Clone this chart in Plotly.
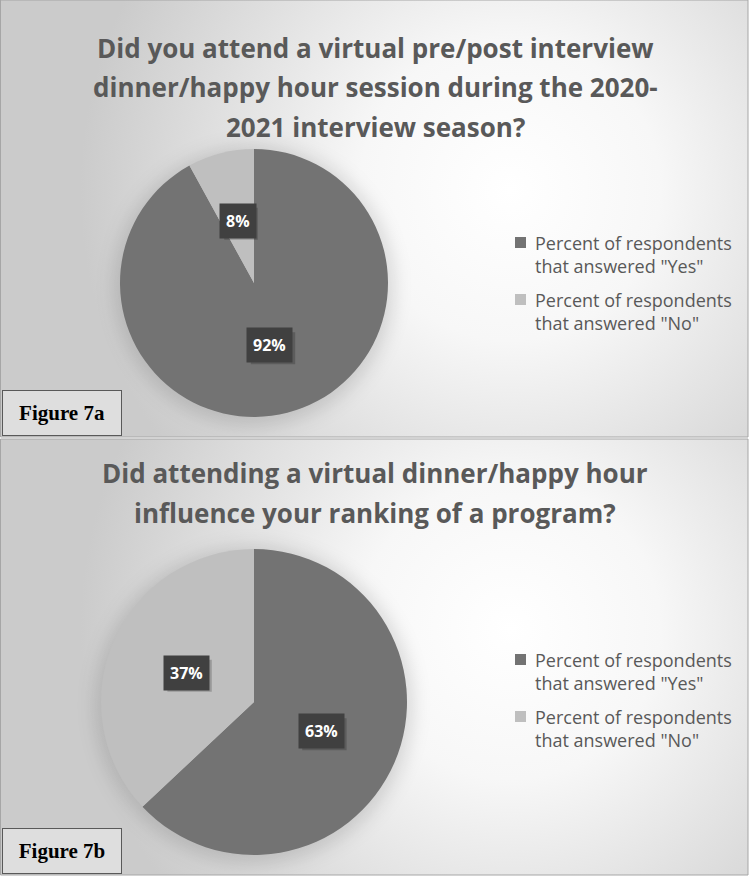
import base64
import math
import plotly.graph_objects as go

W, H = 750, 876

# data
labels = ['Percent of respondents<br>that answered "Yes"', 'Percent of respondents<br>that answered "No"']
values_7a = [92, 8]
values_7b = [63, 37]
title_7a = ["Did you attend a virtual pre/post interview",
            "dinner/happy hour session during the 2020-",
            "2021 interview season?"]
title_7b = ["Did attending a virtual dinner/happy hour",
            "influence your ranking of a program?"]
fig_names = ["Figure 7a", "Figure 7b"]
colors = ["#737373", "#bfbfbf"]


def px_x(x):
    return x / W


def px_y(y):
    return 1 - y / H


# background gradient + soft pie shadow, one svg for each panel
def panel_svg(w, h, cx, cy, r, pcx, pcy, pr):
    svg = f'''<svg xmlns="http://www.w3.org/2000/svg" width="{w}" height="{h}">
<defs><radialGradient id="g" gradientUnits="userSpaceOnUse" cx="{cx}" cy="{cy}" r="{r}">
<stop offset="0" stop-color="#ffffff"/><stop offset="0.35" stop-color="#f7f7f7"/>
<stop offset="1" stop-color="#cbcbcb"/></radialGradient>
<filter id="b" x="-30%" y="-30%" width="160%" height="160%"><feGaussianBlur stdDeviation="9"/></filter></defs>
<rect width="{w}" height="{h}" fill="url(#g)"/>
<circle cx="{pcx}" cy="{pcy + 3}" r="{pr + 6}" fill="#000" fill-opacity="0.13" filter="url(#b)"/></svg>'''
    return "data:image/svg+xml;base64," + base64.b64encode(svg.encode()).decode()


fig = go.Figure()

panels = [(0, 437), (439, 875)]
# pie centre (px), radius, values, title lines, first title line y, legend top y
pies = [((254, 283), 134, values_7a, title_7a, 48, 242),
        ((254, 702), 153, values_7b, title_7b, 473, 659)]

images = []
shapes = []
annotations = []

for i, ((cx, cy), R, vals, title, ty, ly0) in enumerate(pies):
    top, bot = panels[i]
    images.append(dict(source=panel_svg(748, bot - top, 510, 190, 430, cx, cy - top, R),
                       xref="paper", yref="paper",
                       x=0, y=px_y(top), sizex=748 / W, sizey=(bot - top) / H,
                       xanchor="left", yanchor="top", sizing="stretch", layer="below"))
    shapes.append(dict(type="rect", xref="paper", yref="paper", x0=px_x(0.5), x1=px_x(748),
                       y0=px_y(bot), y1=px_y(top), line=dict(color="#a6a6a6", width=1)))

    fig.add_trace(go.Pie(
        labels=labels, values=vals, sort=False, direction="clockwise", rotation=0,
        marker=dict(colors=colors, line=dict(width=0)),
        textinfo="none", hoverinfo="label+percent",
        domain=dict(x=[px_x(cx - R), px_x(cx + R)], y=[px_y(cy + R), px_y(cy - R)]),
        showlegend=False,
    ))

    # data labels, placed along each slice's mid angle
    total = sum(vals)
    start = 0
    for v in vals:
        mid = (start + v / 2) / total * 2 * math.pi
        start += v
        lx = cx + 0.48 * R * math.sin(mid)
        ly = cy - 0.48 * R * math.cos(mid)
        pct = round(v / total * 100)
        txt = f"<b>{pct}%</b>"
        half_w = (len(str(pct)) + 1) * 5.4 + 6
        # drop shadow behind the label box
        shapes.append(dict(type="rect", xref="paper", yref="paper", layer="above",
                           x0=px_x(lx - half_w + 3), x1=px_x(lx + half_w + 3),
                           y0=px_y(ly + 3 + 16), y1=px_y(ly + 3 - 16),
                           fillcolor="rgba(0,0,0,0.2)", line=dict(width=0)))
        annotations.append(dict(
            x=px_x(lx), y=px_y(ly), xref="paper", yref="paper", text=txt,
            xanchor="center", yanchor="middle",
            showarrow=False, font=dict(family="Open Sans", size=16, color="white"),
            bgcolor="#404040", borderpad=6))

    # title, one annotation per line
    for k, line in enumerate(title):
        annotations.append(dict(
            x=px_x(375), y=px_y(ty + 39.5 * k), xref="paper", yref="paper", text=f"<b>{line}</b>",
            showarrow=False, font=dict(family="Open Sans", size=26, color="#595959"),
            yanchor="middle", xanchor="center"))

    # legend
    for k, lab in enumerate(labels):
        y1 = ly0 + 57 * k
        shapes.append(dict(type="rect", xref="paper", yref="paper",
                           x0=px_x(515), x1=px_x(526), y0=px_y(y1 + 6), y1=px_y(y1 - 5),
                           fillcolor=colors[k], line=dict(width=0)))
        annotations.append(dict(
            x=px_x(533), y=px_y(y1 - 13), xref="paper", yref="paper", xanchor="left", yanchor="top",
            text=lab, align="left", showarrow=False,
            font=dict(family="Open Sans", size=18, color="#595959")))

    annotations.append(dict(
        x=px_x(2), y=px_y(bot - 1), xref="paper", yref="paper", xanchor="left", yanchor="bottom",
        text=f"<b>{fig_names[i]}</b>", showarrow=False, align="center", width=112, height=38,
        font=dict(family="Liberation Serif", size=21, color="black"),
        bgcolor="#dedede", bordercolor="#595959", borderwidth=1, borderpad=3))

fig.update_layout(
    width=W, height=H,
    margin=dict(l=0, r=0, t=0, b=0),
    paper_bgcolor="white",
    images=images,
    shapes=shapes,
    annotations=annotations,
)

fig.write_html("out.html", config={"displayModeBar": False},
               post_script="document.body.style.margin='0';")
